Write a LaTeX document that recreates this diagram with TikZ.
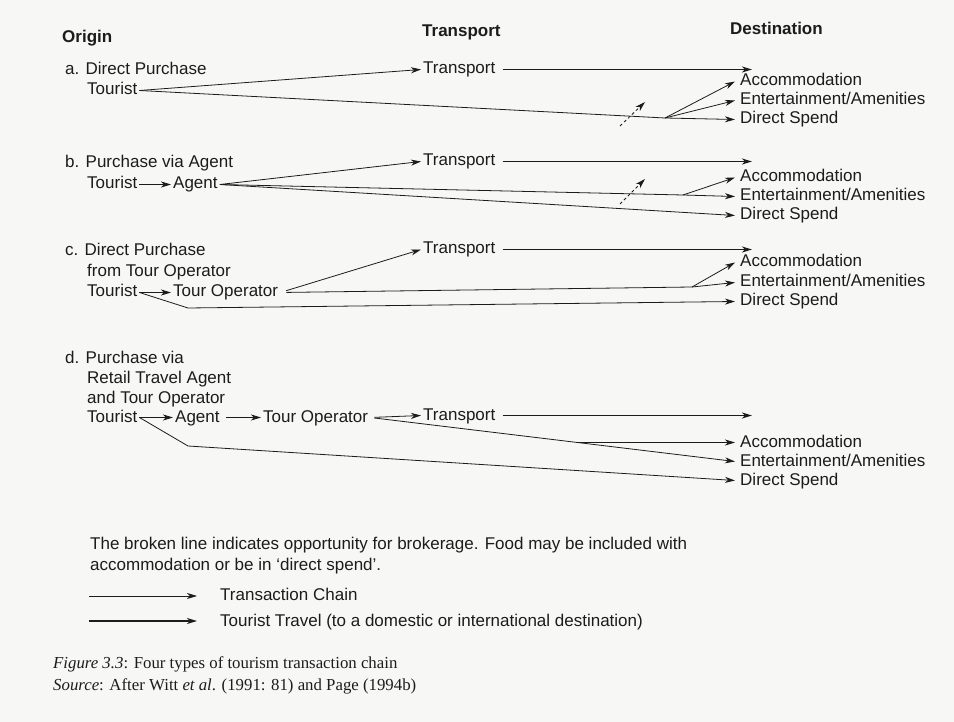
\documentclass[tikz,border=0pt]{standalone}
\usepackage{fontspec}
\setmainfont{Liberation Sans}
\newfontfamily\capfont{Liberation Serif}
\usepackage{tikz}
\usetikzlibrary{arrows.meta,positioning,calc}
\definecolor{paper}{RGB}{247,247,245}
\definecolor{ink}{RGB}{28,28,28}

\begin{document}
\begin{tikzpicture}[x=1pt,y=-1pt,>={Stealth[length=10pt,width=6pt,inset=3pt]},
  lbl/.style={anchor=base west,inner sep=2pt,text height=12pt,text depth=3pt,text=ink,font=\fontsize{17}{20}\selectfont},
  head/.style={lbl,font=\fontsize{17}{20}\selectfont\bfseries},
  dest/.style={lbl,inner xsep=5pt},
  note/.style={anchor=base west,inner sep=2pt,align=left,text=ink,font=\fontsize{17}{21}\selectfont},
  figtext/.style={anchor=base west,inner sep=2pt,text=ink,font=\capfont\fontsize{16.8}{20}\selectfont},
  chain/.style={->,draw=ink,line width=0.8pt},
  travel/.style={->,draw=ink,line width=1.8pt,shorten <=5pt},
  broker/.style={->,draw=ink,line width=0.8pt,dash pattern=on 3pt off 2.5pt},
  wire/.style={draw=ink,line width=0.8pt}]
\path[use as bounding box,fill=paper] (0,0) rectangle (954,722);
\coordinate (tipx) at (752,0);

% column heads
\node[head] (horigin) at (60,43) {Origin};
\node[head] (htransport) at (420,37) {Transport};
\node[head] (hdest) at (728,35) {Destination};

% a. direct purchase
\node[lbl] (alabel) at (63,75) {a. Direct Purchase};
\node[lbl] (atourist) at (85,95) {Tourist};
\node[lbl] (atransport) at (421,74) {Transport};
\node[dest] (aacc) at (735,86) {Accommodation};
\node[dest] (aent) at (735,105) {Entertainment/Amenities};
\node[dest] (aspend) at (735,124) {Direct Spend};
\coordinate (abranch) at (665,118);
\coordinate (adash1) at (620,126);
\coordinate (adash2) at (645,102);
\draw[chain] (atourist.east) -- (atransport.west);
\draw[wire] (atourist.east) -- (abranch);
\draw[chain] (abranch) -- (aacc.west);
\draw[chain] (abranch) -- (aent.west);
\draw[chain] (abranch) -- (aspend.west);
\draw[travel] (atransport.east) -- (atransport.east -| tipx);
\draw[broker] (adash1) -- (adash2);

% b. purchase via agent
\node[lbl] (blabel) at (63,168) {b. Purchase via Agent};
\node[lbl] (btourist) at (85,189) {Tourist};
\node[lbl] (bagent) at (171,189) {Agent};
\node[lbl] (btransport) at (421,166) {Transport};
\node[dest] (bacc) at (735,182) {Accommodation};
\node[dest] (bent) at (735,201) {Entertainment/Amenities};
\node[dest] (bspend) at (735,220) {Direct Spend};
\coordinate (bbranch) at (683,195);
\coordinate (bdash1) at (620,204);
\coordinate (bdash2) at (645,179);
\draw[chain] (btourist.east) -- (bagent.west);
\draw[chain] (bagent.east) -- (btransport.west);
\draw[wire] (bagent.east) -- (bbranch);
\draw[chain] (bbranch) -- (bacc.west);
\draw[chain] (bbranch) -- (bent.west);
\draw[chain] (bagent.east) -- (bspend.west);
\draw[travel] (btransport.east) -- (btransport.east -| tipx);
\draw[broker] (bdash1) -- (bdash2);

% c. direct purchase from tour operator
\node[lbl] (clabel) at (63,256) {c. Direct Purchase};
\node[lbl] (clabelb) at (85,277) {from Tour Operator};
\node[lbl] (ctourist) at (85,297) {Tourist};
\node[lbl] (coperator) at (171,297) {Tour Operator};
\node[lbl] (ctransport) at (421,254) {Transport};
\node[dest] (cacc) at (735,267) {Accommodation};
\node[dest] (cent) at (735,287) {Entertainment/Amenities};
\node[dest] (cspend) at (735,306) {Direct Spend};
\coordinate (cbend) at (188,308);
\coordinate (cbranch) at (692,287);
\draw[chain] (ctourist.east) -- (coperator.west);
\draw[chain] (ctourist.east) -- (cbend) -- (cspend.west);
\draw[chain,shorten <=6pt] (coperator.east) -- (ctransport.west);
\draw[wire,shorten <=6pt] (coperator.east) -- (cbranch);
\draw[chain] (cbranch) -- (cacc.west);
\draw[chain] (cbranch) -- (cent.west);
\draw[travel] (ctransport.east) -- (ctransport.east -| tipx);

% d. purchase via retail travel agent and tour operator
\node[lbl] (dlabel) at (63,363) {d. Purchase via};
\node[lbl] (dlabelb) at (85,383) {Retail Travel Agent};
\node[lbl] (dlabelc) at (85,403) {and Tour Operator};
\node[lbl] (dtourist) at (85,422) {Tourist};
\node[lbl] (dagent) at (173,422) {Agent};
\node[lbl] (doperator) at (261,422) {Tour Operator};
\node[lbl] (dtransport) at (421,420) {Transport};
\node[dest] (dacc) at (735,447) {Accommodation};
\node[dest] (dent) at (735,466) {Entertainment/Amenities};
\node[dest] (dspend) at (735,485) {Direct Spend};
\coordinate (dbend) at (188,446);
\coordinate (dbranch) at ($(doperator.east)!0.57!(dent.west)$);
\draw[chain] (dtourist.east) -- (dagent.west);
\draw[chain,shorten <=4pt] (dagent.east) -- (doperator.west);
\draw[chain,shorten <=4pt] (doperator.east) -- (dtransport.west);
\draw[chain] (dtourist.east) -- (dbend) -- (dspend.west);
\draw[chain,shorten <=4pt] (doperator.east) -- (dent.west);
\draw[chain] (dbranch) -- (dacc.west);
\draw[travel] (dtransport.east) -- (dtransport.east -| tipx);

% key
\node[note] (broken) at (88,570) {The broken line indicates opportunity for brokerage. Food may be included with\\accommodation or be in `direct spend'.};
\node[lbl] (kchain) at (218,600) {Transaction Chain};
\node[lbl] (ktravel) at (218,626) {Tourist Travel (to a domestic or international destination)};
\coordinate (kchaina) at (89,596);
\coordinate (kchainb) at (197,596);
\coordinate (ktravela) at (89,621);
\coordinate (ktravelb) at (197,621);
\draw[chain] (kchaina) -- (kchainb);
\draw[chain,line width=1.5pt] (ktravela) -- (ktravelb);

% caption
\node[figtext] (figcap) at (51,668) {\textit{Figure 3.3}: Four types of tourism transaction chain};
\node[figtext] (figsrc) at (51,690) {\textit{Source}: After Witt \textit{et al}. (1991: 81) and Page (1994b)};
\end{tikzpicture}
\end{document}
